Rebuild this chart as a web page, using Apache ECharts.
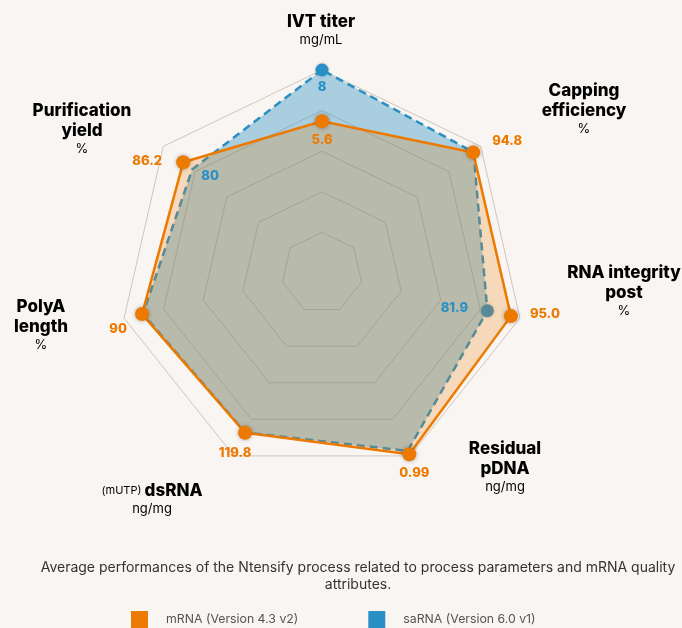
<!DOCTYPE html>
<html>
<head>
<meta charset="utf-8">
<script src="https://cdn.jsdelivr.net/npm/echarts@6/dist/echarts.min.js"></script>
<style>
    html, body { margin: 0; padding: 0; background: #f9f5f2; }
    #chart { width: 682px; height: 628px; }
</style>
</head>
<body>
<div id="chart"></div>
<script>
// indicators, listed from the top going counter-clockwise (echarts radar order)
const indicatorNames = ['IVT titer', 'Purification yield', 'PolyA length', 'dsRNA', 'Residual pDNA', 'RNA integrity post', 'Capping efficiency'];
const indicatorUnits = ['mg/mL', '%', '%', 'ng/mg', 'ng/mg', '%', '%'];
const axisMin = [-1.5, -10, -10, -20, -0.1, -10, -10];
const axisMax = [8, 100, 100, 140, 1, 100, 100];

const seriesNames = ['mRNA (Version 4.3 v2)', 'saRNA (Version 6.0 v1)'];
const mrnaValues = [5.6, 86.2, 90, 119.8, 0.99, 95.0, 94.8];
const sarnaValues = [8, 80, 89.5, 119.5, 0.97, 81.9, 95];
const mrnaLabels = ['5.6', '86.2', '90', '119.8', '0.99', '95.0', '94.8'];
const sarnaLabels = ['8', '80', '', '', '', '81.9', ''];
const sarnaDots = [0, 5];

const ORANGE = '#ec7a00';
const BLUE = '#2a8fc4';

// label offsets from the point, per indicator
const mrnaLabelOffset = [[0, 19], [-36, -1], [-24, 15], [-10, 20], [5, 19], [34, -2], [34, -11]];
const sarnaLabelOffset = [[0, 17], [18, 7], [0, 0], [0, 0], [0, 0], [-33, -3], [0, 0]];

// where the axis names sit (centre x, top y)
const namePos = [[321, 12], [82, 101], [41, 297], [152, 481], [505, 439], [624, 263], [584, 81]];

function nameText(i) {
    let title;
    if (indicatorNames[i] === 'dsRNA') {
        title = '{s|(mUTP) }{t|dsRNA}';
    } else {
        const words = indicatorNames[i].split(' ');
        if (indicatorNames[i] === 'RNA integrity post') {
            title = '{t|RNA integrity}\n{t|post}';
        } else if (words.length === 2 && indicatorNames[i] !== 'IVT titer') {
            title = '{t|' + words[0] + '}\n{t|' + words[1] + '}';
        } else {
            title = '{t|' + indicatorNames[i] + '}';
        }
    }
    return title + '\n{u|' + indicatorUnits[i] + '}';
}

function labelItem(values, texts, offsets, dim, color) {
    return {
        name: '',
        value: values,
        symbol: 'circle',
        symbolSize: 1,
        itemStyle: { color: 'rgba(0,0,0,0)' },
        lineStyle: { width: 0, opacity: 0 },
        label: {
            show: true,
            position: 'inside',
            offset: offsets[dim],
            color: color,
            fontFamily: 'Inter',
            fontWeight: 800,
            fontSize: 13,
            formatter: p => p.dimensionIndex === dim ? texts[dim] : ''
        }
    };
}

const chart = echarts.init(document.getElementById('chart'));

const mainData = [
    {
        name: seriesNames[1],
        value: sarnaValues,
        symbol: 'none',
        itemStyle: { color: BLUE },
        lineStyle: { color: BLUE, width: 2.5, type: [8, 5] },
        areaStyle: { color: 'rgba(42,143,196,0.39)', opacity: 1 }
    },
    {
        name: seriesNames[0],
        value: mrnaValues,
        symbol: 'circle',
        symbolSize: 14,
        itemStyle: { color: ORANGE, shadowBlur: 4, shadowColor: 'rgba(0,0,0,0.3)' },
        lineStyle: { color: ORANGE, width: 2.5 },
        areaStyle: { color: 'rgba(236,122,0,0.23)', opacity: 1 }
    }
];
mrnaLabels.forEach((t, i) => {
    mainData.push(labelItem(mrnaValues, mrnaLabels, mrnaLabelOffset, i, ORANGE));
});
sarnaLabels.forEach((t, i) => {
    if (t) mainData.push(labelItem(sarnaValues, sarnaLabels, sarnaLabelOffset, i, BLUE));
});

// blue markers sit under the orange fill, so they get their own lower series
const dotData = sarnaDots.map(dim => ({
    name: '',
    value: sarnaValues,
    symbol: 'circle',
    symbolSize: 1,
    itemStyle: { color: 'rgba(0,0,0,0)' },
    lineStyle: { width: 0, opacity: 0 },
    label: {
        show: true,
        position: 'inside',
        formatter: p => p.dimensionIndex === dim ? '{d| }' : '',
        rich: {
            d: {
                width: 13, height: 13, lineHeight: 13,
                borderRadius: 7,
                backgroundColor: BLUE,
                shadowBlur: 3,
                shadowColor: 'rgba(0,0,0,0.25)'
            }
        }
    }
}));

const nameRich = {
    t: { fontFamily: 'Inter', fontSize: 17, fontWeight: 800, color: '#222', lineHeight: 20, align: 'center' },
    u: { fontFamily: 'Inter', fontSize: 13, color: '#444', lineHeight: 16, align: 'center' },
    s: { fontFamily: 'Inter', fontSize: 11, color: '#444', lineHeight: 20, align: 'center' }
};

const option = {
    backgroundColor: '#f9f5f2',
    textStyle: { fontFamily: 'Inter' },
    legend: {
        left: 131,
        top: 611,
        padding: 0,
        icon: 'rect',
        itemWidth: 17,
        itemHeight: 17,
        itemGap: 70,
        selectedMode: false,
        data: [
            { name: seriesNames[0], itemStyle: { color: ORANGE, borderWidth: 0 } },
            { name: seriesNames[1], itemStyle: { color: BLUE, borderWidth: 0 } }
        ],
        textStyle: { fontFamily: 'Inter', fontSize: 12.3, color: '#555', padding: [0, 0, 0, 13] }
    },
    radar: {
        center: [322, 273],
        radius: 203,
        startAngle: 90,
        splitNumber: 5,
        shape: 'polygon',
        indicator: indicatorNames.map((n, i) => ({ name: n, min: axisMin[i], max: axisMax[i] })),
        axisName: { show: false },
        axisLine: { show: false },
        axisTick: { show: false },
        axisLabel: { show: false },
        splitLine: { lineStyle: { color: 'rgba(150,125,100,0.4)', width: 1 } },
        splitArea: { show: false }
    },
    graphic: indicatorNames.map((n, i) => ({
        type: 'text',
        x: namePos[i][0],
        y: namePos[i][1],
        style: {
            text: nameText(i),
            align: 'center',
            verticalAlign: 'top',
            rich: nameRich
        }
    })).concat([{
        type: 'text',
        x: 358,
        y: 559,
        style: {
            text: 'Average performances of the Ntensify process related to process parameters and mRNA quality\nattributes.',
            align: 'center',
            verticalAlign: 'top',
            fontFamily: 'Inter',
            fontSize: 14,
            lineHeight: 17,
            fill: '#333'
        }
    }]),
    series: [
        {
            type: 'radar',
            z: 1,
            silent: true,
            data: dotData
        },
        {
            type: 'radar',
            z: 2,
            silent: true,
            data: mainData
        }
    ]
};

chart.setOption(option);
</script>
</body>
</html>
